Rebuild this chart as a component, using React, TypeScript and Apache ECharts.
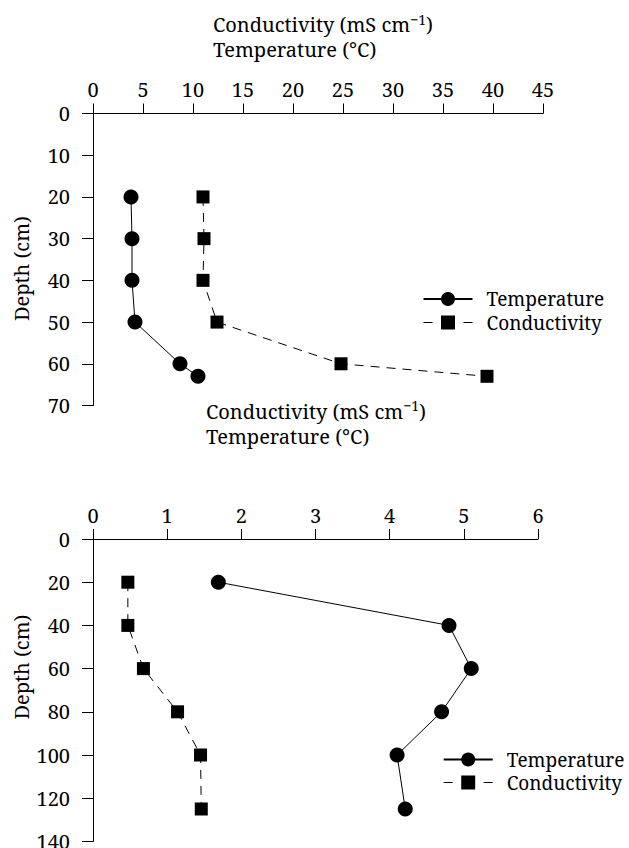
import React, { useEffect, useRef } from "react";
import * as echarts from "echarts";

// ---- data ----
const topDepth = [20, 30, 40, 50, 60, 63];
const topTemperature = [3.8, 3.9, 3.9, 4.2, 8.7, 10.5];
const topConductivity = [11.0, 11.1, 11.0, 12.4, 24.8, 39.4];

const bottomDepth = [20, 40, 60, 80, 100, 125];
const bottomTemperature = [1.69, 4.8, 5.1, 4.7, 4.1, 4.21];
const bottomConductivity = [0.47, 0.47, 0.68, 1.14, 1.45, 1.46];

const topXTicks = [0, 5, 10, 15, 20, 25, 30, 35, 40, 45];
const topYTicks = [0, 10, 20, 30, 40, 50, 60, 70];
const bottomXTicks = [0, 1, 2, 3, 4, 5, 6];
const bottomYTicks = [0, 20, 40, 60, 80, 100, 120, 140];

const seriesNames = ["Temperature", "Conductivity"];
const yName = "Depth (cm)";

const FONT = "Noto Serif";
const FS = 20;

function xAxisCfg(grid: number, ticks: number[]) {
  return {
    type: "value",
    gridIndex: grid,
    position: "top",
    min: ticks[0],
    max: ticks[ticks.length - 1],
    interval: ticks[1] - ticks[0],
    axisLine: { show: true, onZero: false, lineStyle: { color: "#000", width: 1 } },
    axisTick: { show: true, length: 10, lineStyle: { color: "#000", width: 1 } },
    axisLabel: { fontSize: FS, color: "#000", margin: 14, fontFamily: FONT },
    splitLine: { show: false },
  };
}

function yAxisCfg(grid: number, ticks: number[]) {
  return {
    type: "value",
    gridIndex: grid,
    inverse: true,
    min: ticks[0],
    max: ticks[ticks.length - 1],
    interval: ticks[1] - ticks[0],
    axisLine: { show: true, onZero: false, lineStyle: { color: "#000", width: 1 } },
    axisTick: { show: true, length: 11, lineStyle: { color: "#000", width: 1 } },
    axisLabel: { fontSize: FS, color: "#000", margin: 23, fontFamily: FONT },
    splitLine: { show: false },
  };
}

function pairs(xs: number[], ys: number[]) {
  return ys.map((d, i) => [xs[i], d]);
}

function tempSeries(grid: number, xs: number[], ys: number[]) {
  return {
    type: "line",
    name: seriesNames[0],
    xAxisIndex: grid,
    yAxisIndex: grid,
    data: pairs(xs, ys),
    symbol: "circle",
    symbolSize: 15,
    itemStyle: { color: "#000" },
    lineStyle: { color: "#000", width: 1, type: "solid" },
    clip: false,
  };
}

function condSeries(grid: number, xs: number[], ys: number[]) {
  return {
    type: "line",
    name: seriesNames[1],
    xAxisIndex: grid,
    yAxisIndex: grid,
    data: pairs(xs, ys),
    symbol: "rect",
    symbolSize: 13,
    itemStyle: { color: "#000" },
    lineStyle: { color: "#000", width: 1, type: [9, 7] },
    clip: false,
  };
}

function legendCfg(left: number, top: number, gap: number, textPad: number) {
  return {
    orient: "vertical",
    left,
    top,
    padding: 0,
    itemWidth: 49,
    itemHeight: 17.5,
    itemGap: gap,
    selectedMode: false,
    data: [
      { name: seriesNames[0] },
      { name: seriesNames[1], lineStyle: { type: [9, 31], color: "#000", width: 1 } },
    ],
    textStyle: {
      fontSize: 19,
      color: "#000",
      fontFamily: FONT,
      lineHeight: 18,
      padding: [0, 0, 0, textPad],
    },
  };
}

function titleText(x: number, y: number) {
  return {
    type: "text",
    x,
    y,
    style: {
      text: "{a|Conductivity (mS cm}{s|−1}{a|)}\n{a|Temperature (°C)}",
      fill: "#000",
      fontSize: FS,
      fontFamily: FONT,
      verticalAlign: "top",
      align: "left",
      rich: {
        a: { fontSize: FS, fontFamily: FONT, lineHeight: 25, fill: "#000" },
        s: { fontSize: 14, fontFamily: FONT, lineHeight: 11, verticalAlign: "top", fill: "#000" },
      },
    },
  };
}

function depthLabel(x: number, y: number) {
  return {
    type: "text",
    x,
    y,
    rotation: Math.PI / 2,
    style: {
      text: yName,
      fill: "#000",
      fontSize: FS,
      fontFamily: FONT,
      align: "center",
      verticalAlign: "middle",
    },
  };
}

export default function App() {
  const ref = useRef<HTMLDivElement>(null);
  useEffect(() => {
    if (!ref.current) return;
    const chart = echarts.init(ref.current, undefined, { renderer: "svg" });
    chart.setOption({
      animation: false,
      backgroundColor: "#fff",
      textStyle: { fontFamily: FONT, color: "#000" },
      grid: [
        { left: 93, top: 113.5, width: 450, height: 292, outerBoundsMode: "none" },
        { left: 93, top: 539, width: 445, height: 302.4, outerBoundsMode: "none" },
      ],
      xAxis: [xAxisCfg(0, topXTicks), xAxisCfg(1, bottomXTicks)],
      yAxis: [yAxisCfg(0, topYTicks), yAxisCfg(1, bottomYTicks)],
      legend: [legendCfg(422.5, 289.5, 4.5, 9), legendCfg(442.7, 750, 4, 9)],
      series: [
        tempSeries(0, topTemperature, topDepth),
        condSeries(0, topConductivity, topDepth),
        tempSeries(1, bottomTemperature, bottomDepth),
        condSeries(1, bottomConductivity, bottomDepth),
      ],
      graphic: [
        titleText(213, 12),
        titleText(206, 398.5),
        depthLabel(21, 268.5),
        depthLabel(21, 667),
      ],
    });
    return () => chart.dispose();
  }, []);
  return (
    <div
      ref={ref}
      style={{ position: "absolute", left: 0, top: 0, width: 629, height: 848, background: "#fff" }}
    />
  );
}
